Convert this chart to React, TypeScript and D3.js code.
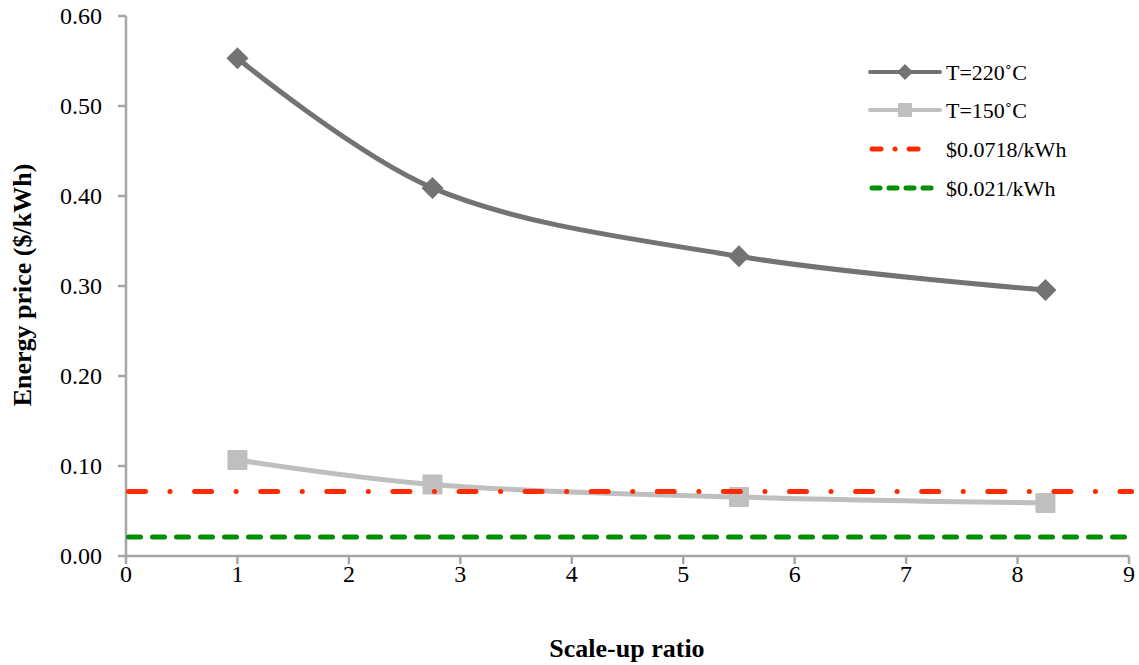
import React from "react";
import * as d3 from "d3";

const xValues = [1, 2.75, 5.5, 8.25];
const t220 = [0.553, 0.409, 0.333, 0.2955];
const t150 = [0.1067, 0.0795, 0.0655, 0.0589];
const priceHigh = 0.0718;
const priceLow = 0.021;
const xTicks = [0, 1, 2, 3, 4, 5, 6, 7, 8, 9];
const yTicks = [0, 0.1, 0.2, 0.3, 0.4, 0.5, 0.6];
const legendLabels = ["T=220˚C", "T=150˚C", "$0.0718/kWh", "$0.021/kWh"];

const W = 1139;
const H = 665;
const FONT = "'Liberation Serif', 'Times New Roman', serif";

export default function App() {
  const x = d3.scaleLinear().domain([0, 9]).range([126, 1129]);
  const y = d3.scaleLinear().domain([0, 0.6]).range([556, 16]);
  const line = d3
    .line<[number, number]>()
    .x((d) => x(d[0]))
    .y((d) => y(d[1]))
    .curve(d3.curveCatmullRom.alpha(0.5));
  const p220 = xValues.map((v, i) => [v, t220[i]] as [number, number]);
  const p150 = xValues.map((v, i) => [v, t150[i]] as [number, number]);
  const axisColor = "#a6a6a6";
  const dark = "#737373";
  const light = "#bfbfbf";
  const red = "#ff2a00";
  const green = "#008f00";
  const redDash = "17,24.5,0.1,24.5";
  const greenDash = "12,12";

  const legendY = [72, 110, 149, 188];

  return (
    <svg
      width={W}
      height={H}
      style={{ position: "fixed", left: 0, top: 0, background: "#fff", fontFamily: FONT }}
    >
      {/* axes */}
      <line x1={x(0)} x2={x(9)} y1={y(0)} y2={y(0)} stroke={axisColor} strokeWidth={2.5} />
      <line x1={x(0)} x2={x(0)} y1={y(0)} y2={y(0.6)} stroke={axisColor} strokeWidth={2.5} />
      {yTicks.map((t) => (
        <g key={"y" + t}>
          <line x1={x(0) - 8} x2={x(0)} y1={y(t)} y2={y(t)} stroke={axisColor} strokeWidth={2.5} />
          <text x={102} y={y(t)} dy="0.35em" textAnchor="end" fontSize={24} fill="#000">
            {t.toFixed(2)}
          </text>
        </g>
      ))}
      {xTicks.map((t) => (
        <g key={"x" + t}>
          <line x1={x(t)} x2={x(t)} y1={y(0)} y2={y(0) + 8} stroke={axisColor} strokeWidth={2.5} />
          <text x={x(t)} y={y(0) + 18} dy="0.35em" textAnchor="middle" fontSize={24} fill="#000">
            {t}
          </text>
        </g>
      ))}
      <text x={627} y={657} textAnchor="middle" fontSize={26} fontWeight="bold">
        Scale-up ratio
      </text>
      <text
        transform={`translate(22,${285}) rotate(-90)`}
        textAnchor="middle"
        fontSize={26}
        fontWeight="bold"
        dy="0.35em"
      >
        Energy price ($/kWh)
      </text>

      {/* series */}
      <path d={line(p150) || ""} fill="none" stroke={light} strokeWidth={5} />
      {p150.map((d, i) => (
        <rect
          key={"s" + i}
          x={x(d[0]) - 10}
          y={y(d[1]) - 10}
          width={20}
          height={20}
          fill={light}
          rx={1}
        />
      ))}
      <path d={line(p220) || ""} fill="none" stroke={dark} strokeWidth={5} />
      {p220.map((d, i) => (
        <path
          key={"d" + i}
          d={`M${x(d[0])},${y(d[1]) - 11}L${x(d[0]) + 11},${y(d[1])}L${x(d[0])},${y(d[1]) + 11}L${x(d[0]) - 11},${y(d[1])}Z`}
          fill={dark}
        />
      ))}

      {/* reference lines (drawn on top) */}
      <line
        x1={x(0)}
        x2={x(9)}
        y1={y(priceHigh)}
        y2={y(priceHigh)}
        stroke={red}
        strokeWidth={5}
        strokeLinecap="round"
        strokeDasharray={redDash}
        transform="translate(2.5,0)"
      />
      <line
        x1={x(0)}
        x2={x(9) - 4}
        y1={y(priceLow)}
        y2={y(priceLow)}
        stroke={green}
        strokeWidth={5}
        strokeLinecap="round"
        strokeDasharray={greenDash}
        transform="translate(2.5,0)"
      />

      {/* legend */}
      <g>
        <line x1={870} x2={940} y1={legendY[0]} y2={legendY[0]} stroke={dark} strokeWidth={4} strokeLinecap="round" />
        <path
          d={`M905,${legendY[0] - 8}L913,${legendY[0]}L905,${legendY[0] + 8}L897,${legendY[0]}Z`}
          fill={dark}
        />
        <line x1={870} x2={940} y1={legendY[1]} y2={legendY[1]} stroke={light} strokeWidth={4} strokeLinecap="round" />
        <rect x={898} y={legendY[1] - 7} width={14} height={14} fill={light} rx={1} />
        <line
          x1={872}
          x2={925}
          y1={legendY[2]}
          y2={legendY[2]}
          stroke={red}
          strokeWidth={5}
          strokeLinecap="round"
          strokeDasharray="9,14,0.1,14"
        />
        <line
          x1={872}
          x2={940}
          y1={legendY[3]}
          y2={legendY[3]}
          stroke={green}
          strokeWidth={5}
          strokeLinecap="round"
          strokeDasharray="8,9"
        />
        {legendLabels.map((l, i) => (
          <text key={l} x={946} y={legendY[i]} dy="0.35em" fontSize={22} fill="#000">
            {l}
          </text>
        ))}
      </g>
    </svg>
  );
}
